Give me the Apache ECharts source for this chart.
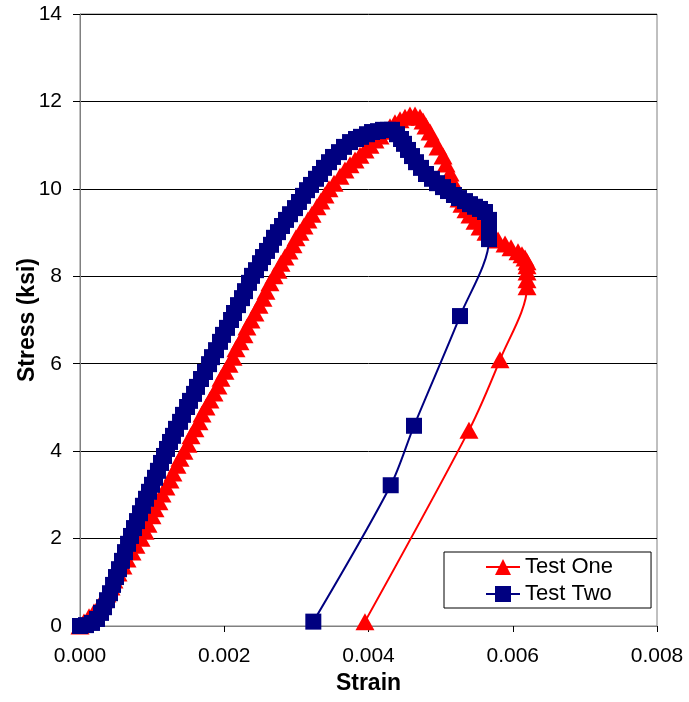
<!DOCTYPE html>
<html>
<head>
<meta charset="utf-8">
<script src="https://cdn.jsdelivr.net/npm/echarts@6/dist/echarts.min.js"></script>
<style>
html,body{margin:0;padding:0;background:#fff;}
#chart{width:689px;height:702px;}
</style>
</head>
<body>
<div id="chart"></div>
<script>
// Test One (red triangles)
const strainOne = [0, 0.000055, 0.000125, 0.000194, 0.000263, 0.000319, 0.000374, 0.00043, 0.000471, 0.000527, 0.000596, 0.000652, 0.000721, 0.000776, 0.000846, 0.000901, 0.000943, 0.000998, 0.00104, 0.001095, 0.001137, 0.001192, 0.001248, 0.001289, 0.001345, 0.001387, 0.001442, 0.001497, 0.001539, 0.001594, 0.00165, 0.001692, 0.001747, 0.001802, 0.001858, 0.001913, 0.001955, 0.00201, 0.002066, 0.002121, 0.002163, 0.002218, 0.002274, 0.002315, 0.002371, 0.002426, 0.002482, 0.002537, 0.002579, 0.002634, 0.00269, 0.002745, 0.002787, 0.002842, 0.002898, 0.002953, 0.002995, 0.00305, 0.003106, 0.003161, 0.003217, 0.003286, 0.003341, 0.003397, 0.003452, 0.003522, 0.003605, 0.003674, 0.003744, 0.003813, 0.003882, 0.003952, 0.004021, 0.00409, 0.00416, 0.004229, 0.004298, 0.004367, 0.004437, 0.004506, 0.004575, 0.004645, 0.004714, 0.004756, 0.004797, 0.004853, 0.004894, 0.004964, 0.005033, 0.005075, 0.00513, 0.005158, 0.005185, 0.005213, 0.005255, 0.005296, 0.005352, 0.005407, 0.005477, 0.005546, 0.005629, 0.005712, 0.005796, 0.005893, 0.005976, 0.006073, 0.006128, 0.00617, 0.006198, 0.006198, 0.006198, 0.006198, 0.006198, 0.005823, 0.005393, 0.003951];
const stressOne = [0, 0.09, 0.21, 0.32, 0.46, 0.59, 0.73, 0.89, 1.05, 1.21, 1.37, 1.53, 1.69, 1.85, 2.01, 2.17, 2.33, 2.52, 2.68, 2.84, 3.02, 3.18, 3.34, 3.50, 3.68, 3.84, 4.00, 4.16, 4.35, 4.51, 4.67, 4.85, 5.01, 5.17, 5.33, 5.49, 5.67, 5.83, 5.99, 6.15, 6.34, 6.50, 6.66, 6.84, 7.00, 7.16, 7.34, 7.50, 7.66, 7.85, 8.01, 8.14, 8.30, 8.44, 8.58, 8.72, 8.88, 9.01, 9.15, 9.29, 9.42, 9.59, 9.72, 9.86, 10.00, 10.13, 10.29, 10.43, 10.55, 10.66, 10.77, 10.89, 11.00, 11.12, 11.21, 11.32, 11.42, 11.51, 11.58, 11.64, 11.69, 11.69, 11.64, 11.55, 11.44, 11.30, 11.14, 10.96, 10.75, 10.57, 10.36, 10.20, 10.04, 9.91, 9.77, 9.65, 9.52, 9.40, 9.26, 9.13, 9.01, 8.92, 8.83, 8.74, 8.65, 8.56, 8.49, 8.42, 8.33, 8.24, 8.10, 7.92, 7.76, 6.09, 4.48, 0.10];

// Test Two (navy squares)
const strainTwo = [0, 0.000083, 0.000166, 0.000236, 0.000291, 0.000333, 0.000374, 0.000416, 0.000458, 0.000499, 0.000541, 0.000582, 0.000624, 0.000666, 0.000707, 0.000749, 0.00079, 0.000832, 0.000873, 0.000915, 0.000957, 0.000998, 0.00104, 0.001081, 0.001123, 0.001165, 0.001206, 0.001248, 0.001289, 0.001331, 0.001387, 0.001428, 0.001484, 0.001525, 0.001581, 0.001622, 0.001678, 0.001733, 0.001789, 0.00183, 0.001886, 0.001941, 0.001983, 0.002038, 0.002094, 0.002135, 0.002191, 0.002246, 0.002288, 0.002343, 0.002385, 0.00244, 0.002496, 0.002537, 0.002593, 0.002648, 0.00269, 0.002745, 0.002801, 0.002856, 0.002912, 0.002981, 0.003036, 0.003092, 0.003147, 0.003203, 0.003272, 0.003328, 0.003383, 0.003452, 0.003508, 0.003591, 0.00366, 0.003744, 0.003827, 0.003896, 0.003979, 0.004049, 0.004132, 0.004201, 0.00427, 0.004326, 0.004395, 0.004451, 0.004492, 0.004548, 0.004603, 0.004659, 0.004728, 0.004797, 0.00488, 0.00495, 0.005033, 0.005102, 0.005185, 0.005255, 0.005338, 0.005407, 0.005477, 0.005546, 0.005615, 0.005671, 0.005671, 0.005671, 0.005671, 0.005269, 0.004631, 0.004308, 0.003235];
const stressTwo = [0, 0.02, 0.07, 0.16, 0.30, 0.43, 0.59, 0.75, 0.94, 1.12, 1.30, 1.49, 1.69, 1.88, 2.06, 2.24, 2.40, 2.58, 2.75, 2.91, 3.07, 3.23, 3.39, 3.55, 3.73, 3.89, 4.05, 4.21, 4.35, 4.51, 4.67, 4.83, 5.01, 5.15, 5.31, 5.47, 5.65, 5.81, 5.99, 6.15, 6.31, 6.50, 6.66, 6.82, 7.00, 7.16, 7.34, 7.50, 7.66, 7.85, 8.01, 8.14, 8.30, 8.44, 8.58, 8.72, 8.88, 9.01, 9.15, 9.29, 9.42, 9.56, 9.70, 9.84, 9.97, 10.09, 10.23, 10.34, 10.48, 10.61, 10.73, 10.84, 10.96, 11.07, 11.14, 11.19, 11.25, 11.30, 11.32, 11.35, 11.35, 11.35, 11.25, 11.14, 11.03, 10.89, 10.75, 10.61, 10.48, 10.34, 10.23, 10.13, 10.04, 9.95, 9.86, 9.79, 9.72, 9.65, 9.59, 9.54, 9.47, 9.29, 9.15, 9.01, 8.85, 7.09, 4.58, 3.22, 0.10];

const seriesNames = ['Test One', 'Test Two'];
const xTitle = 'Strain';
const yTitle = 'Stress (ksi)';

const pair = (xs, ys) => xs.map((x, i) => [x, ys[i]]);
const FONT = 'Arial, "Liberation Sans", sans-serif';

const chart = echarts.init(document.getElementById('chart'), null, {renderer: 'canvas'});
chart.setOption({
  animation: false,
  backgroundColor: '#ffffff',
  grid: {
    left: 80, right: 32, top: 14, bottom: 76,
    show: true, borderColor: '#808080', borderWidth: 1, backgroundColor: 'transparent'
  },
  legend: {
    orient: 'vertical',
    left: 444, top: 552,
    width: 210,
    padding: [3, 38, 2, 41],
    itemGap: 3,
    itemWidth: 34,
    itemHeight: 20,
    borderColor: '#000000',
    borderWidth: 1,
    backgroundColor: '#ffffff',
    textStyle: {fontFamily: FONT, fontSize: 22, color: '#000', lineHeight: 24},
    data: seriesNames
  },
  xAxis: {
    type: 'value',
    min: 0, max: 0.008, interval: 0.002,
    name: xTitle,
    nameLocation: 'middle',
    nameGap: 46,
    nameMoveOverlap: false,
    nameTextStyle: {fontFamily: FONT, fontSize: 23, fontWeight: 'bold', color: '#000'},
    axisLine: {show: true, lineStyle: {color: '#808080', width: 1}},
    axisTick: {show: true, inside: false, length: 6, lineStyle: {color: '#000'}},
    axisLabel: {
      fontFamily: FONT, fontSize: 21, color: '#000', margin: 20,
      formatter: v => v.toFixed(3)
    },
    splitLine: {show: false}
  },
  yAxis: {
    type: 'value',
    min: 0, max: 14, interval: 2,
    name: yTitle,
    nameLocation: 'middle',
    nameGap: 41,
    nameMoveOverlap: false,
    nameTextStyle: {fontFamily: FONT, fontSize: 23, fontWeight: 'bold', color: '#000'},
    axisLine: {show: true, lineStyle: {color: '#808080', width: 1}},
    axisTick: {show: true, inside: false, length: 7, lineStyle: {color: '#000'}},
    axisLabel: {fontFamily: FONT, fontSize: 21, color: '#000', margin: 18},
    splitLine: {show: true, lineStyle: {color: '#000', width: 1}}
  },
  series: [
    {
      name: seriesNames[0],
      type: 'line',
      data: pair(strainOne, stressOne),
      symbol: 'triangle',
      symbolSize: [19, 17],
      showSymbol: true,
      smooth: 0.3,
      color: '#ff0000',
      lineStyle: {color: '#ff0000', width: 2},
      itemStyle: {color: '#ff0000'},
      emphasis: {disabled: true},
      z: 2
    },
    {
      name: seriesNames[1],
      type: 'line',
      data: pair(strainTwo, stressTwo),
      symbol: 'rect',
      symbolSize: 16,
      showSymbol: true,
      smooth: 0.3,
      color: '#000080',
      lineStyle: {color: '#000080', width: 2},
      itemStyle: {color: '#000080'},
      emphasis: {disabled: true},
      z: 3
    }
  ]
});
</script>
</body>
</html>
